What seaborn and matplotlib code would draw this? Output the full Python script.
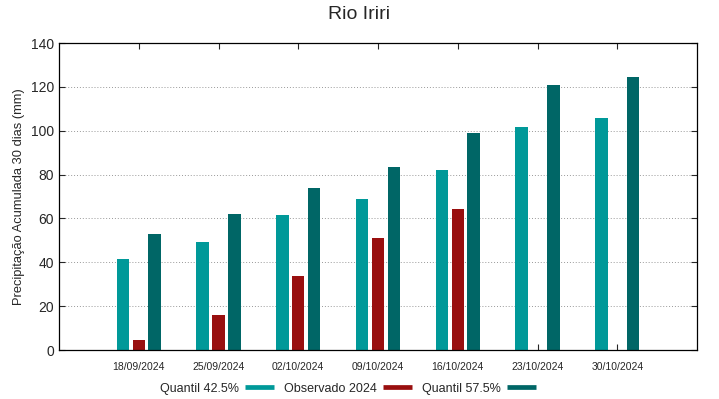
import numpy as np
import pandas as pd
import matplotlib
matplotlib.use("Agg")
import matplotlib.pyplot as plt
from matplotlib.lines import Line2D
import seaborn as sns

# dados
datas = ["18/09/2024", "25/09/2024", "02/10/2024", "09/10/2024",
         "16/10/2024", "23/10/2024", "30/10/2024"]
quantil_425 = [41.6, 49.4, 61.6, 68.8, 82.3, 101.9, 105.8]
observado_2024 = [4.6, 15.8, 33.6, 51.3, 64.1, np.nan, np.nan]
quantil_575 = [53.1, 62.1, 74.0, 83.5, 99.0, 120.8, 124.6]

series = ["Quantil 42.5%", "Observado 2024", "Quantil 57.5%"]
cores = ["#009999", "#990f0f", "#006666"]

df = pd.DataFrame({"data": datas,
                   series[0]: quantil_425,
                   series[1]: observado_2024,
                   series[2]: quantil_575})
df = df.melt(id_vars="data", var_name="serie", value_name="valor")

sns.set_style("ticks")
plt.rcParams["font.family"] = ["Liberation Sans", "DejaVu Sans"]

fig = plt.figure(figsize=(7.19, 3.99), dpi=100)
ax = fig.add_axes([59 / 719, 1 - 350 / 399, 638 / 719, 307 / 399])

sns.barplot(data=df, x="data", y="valor", hue="serie", hue_order=series,
            order=datas, palette=cores, width=0.6, gap=0.22, saturation=1,
            linewidth=0, ax=ax, legend=False, errorbar=None)

ax.set_xlim(-1, 7)
ax.set_ylim(0, 140)
ax.set_yticks(range(0, 141, 20))
ax.set_xlabel("")
ax.set_ylabel("Precipitação Acumulada 30 dias (mm)", fontsize=9.3)
ax.tick_params(axis="x", labelsize=7.5, direction="in", top=True, length=4, pad=9)
ax.tick_params(axis="y", labelsize=10, direction="in", right=True, length=4)
for s in ax.spines.values():
    s.set_visible(True)
    s.set_linewidth(0.9)
    s.set_color("black")

ax.set_axisbelow(True)
for y in range(20, 140, 20):
    ax.axhline(y, color="#999999", linestyle=(0, (1, 2)), linewidth=0.7, zorder=0)

fig.suptitle("Rio Iriri", fontsize=14, y=0.985)

handles = [Line2D([0], [0], color=c, linewidth=3.4, solid_capstyle="butt")
           for c in cores]
fig.legend(handles, series, loc="center", bbox_to_anchor=(0.484, 0.026),
           ncol=3, frameon=False, markerfirst=False, fontsize=9,
           handlelength=2.3, columnspacing=0.8, handletextpad=0.5)

fig.savefig("out.png", dpi=100)
